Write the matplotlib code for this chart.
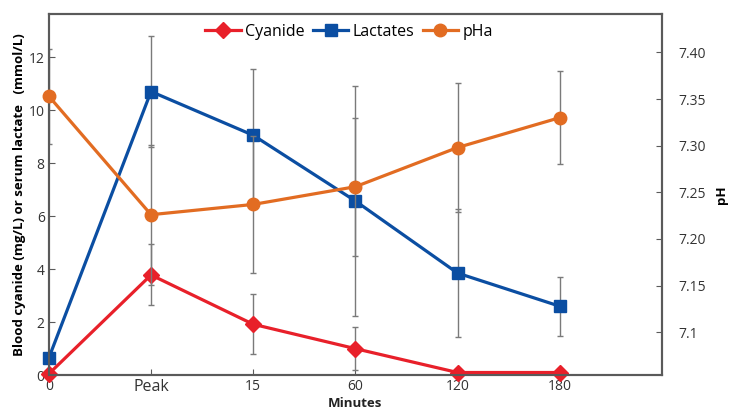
import matplotlib.pyplot as plt
import numpy as np
from matplotlib.transforms import ScaledTranslation

plt.rcParams['font.family'] = ['Open Sans', 'DejaVu Sans']

categories = ['0', 'Peak', '15', '60', '120', '180']
cyanide = [0.05, 3.78, 1.92, 1.0, 0.1, 0.1]
cyanide_err = [0, 1.15, 1.13, 0.82, 0, 0]
lactates = [0.65, 10.7, 9.05, 6.57, 3.85, 2.6]
lactates_err = [0, 2.1, 2.5, 4.35, 2.4, 1.12]
pha = [7.353, 7.226, 7.237, 7.256, 7.298, 7.330]
pha_err = [0.051, 0.075, 0.073, 0.074, 0.069, 0.050]
ph_ticks = [7.10, 7.15, 7.20, 7.25, 7.30, 7.35, 7.40]
ph_ticklabels = ['7.1', '7.15', '7.20', '7.25', '7.30', '7.35', '7.40']

red = '#E8202A'
blue = '#0B4EA2'
orange = '#E26C22'
errc = '#7a7a7a'
spc = '#5a5a5a'

x = np.arange(len(categories))

fig = plt.figure(figsize=(7.29, 4.15), dpi=100)
ax = fig.add_axes([0.067, 0.096, 0.841, 0.870])
ax2 = ax.twinx()

ax.errorbar(x, lactates, yerr=lactates_err, fmt='none', ecolor=errc, elinewidth=1, capsize=2, capthick=1, zorder=2)
ax.errorbar(x, cyanide, yerr=cyanide_err, fmt='none', ecolor=errc, elinewidth=1, capsize=2, capthick=1, zorder=2)
l2, = ax.plot(x, lactates, color=blue, lw=2.3, marker='s', ms=8, label='Lactates', zorder=3, clip_on=False)
l1, = ax.plot(x, cyanide, color=red, lw=2.3, marker='D', ms=8, label='Cyanide', zorder=4, clip_on=False)

ax2.errorbar(x, pha, yerr=pha_err, fmt='none', ecolor=errc, elinewidth=1, capsize=2, capthick=1, zorder=2)
l3, = ax2.plot(x, pha, color=orange, lw=2.3, marker='o', ms=9, label='pHa', zorder=3, clip_on=False)

ax.set_xlim(0, 6)
ax.set_ylim(0, 13.62)
ax2.set_ylim(7.054, 7.441)

ax.set_xticks(x)
ax.set_xticklabels(categories, fontsize=10)
peak = ax.get_xticklabels()[1]
peak.set_fontsize(11.5)
peak.set_transform(peak.get_transform() + ScaledTranslation(0, -11 / 100, fig.dpi_scale_trans))

ax.set_yticks(range(0, 13, 2))
ax.tick_params(axis='y', labelsize=10, direction='in', length=4, color=spc, pad=3)
ax.tick_params(axis='x', direction='in', length=4, color=spc, pad=3)
ax2.set_yticks(ph_ticks)
ax2.set_yticklabels(ph_ticklabels)
ax2.tick_params(axis='y', labelsize=10, direction='in', length=4, color=spc, pad=12, labelcolor='#333333')
for lab in ax.get_xticklabels() + ax.get_yticklabels():
    lab.set_color('#333333')

for a in (ax, ax2):
    for s in a.spines.values():
        s.set_color(spc)
        s.set_linewidth(1.5)

ax.text(0.5, -0.078, 'Minutes', transform=ax.transAxes, ha='center', va='center',
        fontsize=9.5, fontweight='bold', color='#222222')
ax.set_ylabel('Blood cyanide (mg/L) or serum lactate   (mmol/L)', fontsize=9.5, fontweight='bold', labelpad=2)
ax2.set_ylabel('pH', fontsize=9.5, fontweight='bold', labelpad=6)

ax2.legend(handles=[l1, l2, l3], loc='upper center', bbox_to_anchor=(0.49, 1.0), ncol=3, frameon=False,
           fontsize=11.5, handlelength=2.2, handletextpad=0.3, columnspacing=0.5, borderaxespad=0.2)

fig.savefig('out.png', dpi=100, facecolor='w')
